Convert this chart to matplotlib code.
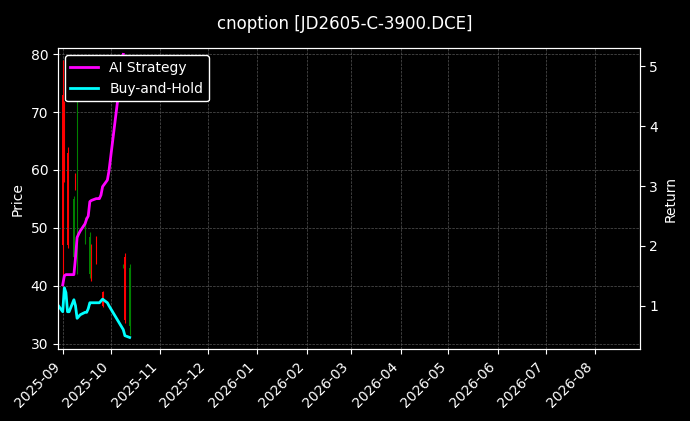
import matplotlib
matplotlib.use("Agg")
import matplotlib.pyplot as plt
import matplotlib.dates as mdates
import pandas as pd

c_dates = ["2025-09-01","2025-09-02","2025-09-04","2025-09-08","2025-09-09","2025-09-10",
           "2025-09-15","2025-09-18","2025-09-19","2025-09-22","2025-09-26",
           "2025-10-09","2025-10-10","2025-10-13"]
c_open  = [47, 59, 47, 55, 57, 56, 51.5, 48.5, 41.5, 44, 36.5, 43.6, 34, 43]
c_close = [73, 71, 63, 45, 59, 47, 47.5, 42, 46.5, 48, 39, 43.2, 45, 33]
c_high  = [79, 72, 64, 55.5, 59.5, 74, 51.8, 49.2, 47.2, 48.6, 39.1, 43.7, 45.7, 43.7]
c_low   = [40, 58, 46.5, 44.8, 56.5, 42, 47.2, 41.3, 40.8, 43.7, 36.3, 43.1, 33.5, 31.5]

ai_dates = ["2025-09-01","2025-09-02","2025-09-03","2025-09-04","2025-09-05","2025-09-08",
            "2025-09-09","2025-09-10","2025-09-11","2025-09-12","2025-09-15","2025-09-16",
            "2025-09-17","2025-09-18","2025-09-19","2025-09-22","2025-09-23","2025-09-24",
            "2025-09-25","2025-09-26","2025-09-29","2025-09-30","2025-10-09"]
ai_ret = [1.35, 1.5, 1.52, 1.52, 1.52, 1.52, 1.8, 2.14, 2.2, 2.25, 2.37, 2.45,
          2.5, 2.74, 2.76, 2.79, 2.79, 2.79, 2.85, 2.99, 3.1, 3.25, 5.2]

bh_dates = ["2025-08-29","2025-09-01","2025-09-02","2025-09-03","2025-09-04","2025-09-05",
            "2025-09-08","2025-09-09","2025-09-10","2025-09-11","2025-09-12","2025-09-15",
            "2025-09-16","2025-09-17","2025-09-18","2025-09-19","2025-09-22","2025-09-23",
            "2025-09-24","2025-09-25","2025-09-26","2025-09-29","2025-09-30","2025-10-09",
            "2025-10-10","2025-10-13"]
bh_ret = [1.01, 0.9, 1.3, 1.22, 0.9, 0.9, 1.1, 1.0, 0.79, 0.82, 0.85, 0.89,
          0.89, 0.95, 1.05, 1.05, 1.05, 1.05, 1.05, 1.08, 1.11, 1.05, 1.0, 0.6,
          0.5, 0.47]

plt.style.use("dark_background")
fig = plt.figure(figsize=(6.9, 4.21), dpi=100)
ax = fig.add_axes([0.084, 0.17, 0.843, 0.715])
ax.set_facecolor("black")
cd = pd.to_datetime(c_dates)
for d, o, c, h, l in zip(cd, c_open, c_close, c_high, c_low):
    col = "red" if c >= o else "green"
    ax.vlines(d, l, h, color=col, linewidth=0.8)
    ax.bar(d, abs(c - o), bottom=min(o, c), width=0.6, color=col)
ax.set_ylim(29, 81)
ax.set_ylabel("Price")
ax.grid(True, linestyle="--", linewidth=0.5, color="#555555")
ax.set_xlim(pd.Timestamp("2025-08-29"), pd.Timestamp("2026-08-29"))
ax.xaxis.set_major_locator(mdates.MonthLocator())
ax.xaxis.set_major_formatter(mdates.DateFormatter("%Y-%m"))
plt.setp(ax.get_xticklabels(), rotation=45, ha="right")

ax2 = ax.twinx()
l1, = ax2.plot(pd.to_datetime(ai_dates), ai_ret, color="magenta", linewidth=2, label="AI Strategy")
l2, = ax2.plot(pd.to_datetime(bh_dates), bh_ret, color="cyan", linewidth=2, label="Buy-and-Hold")
ax2.set_ylim(0.27, 5.3)
ax2.set_ylabel("Return")
leg = ax2.legend(handles=[l1, l2], loc="upper left", facecolor="black", edgecolor="white", framealpha=1)
fig.suptitle("cnoption [JD2605-C-3900.DCE]", y=0.965)
fig.savefig("out.png", dpi=100)
